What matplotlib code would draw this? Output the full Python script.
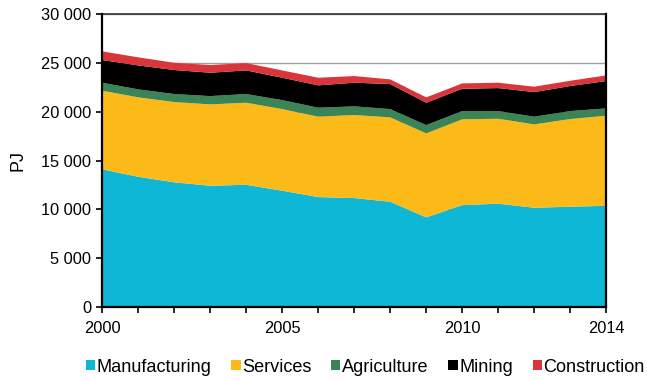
import matplotlib.pyplot as plt
from matplotlib.patches import Patch
from matplotlib.ticker import FuncFormatter

plt.rcParams['font.family'] = ['Liberation Sans', 'DejaVu Sans']

years = list(range(2000, 2015))
sectors = ['Manufacturing', 'Services', 'Agriculture', 'Mining', 'Construction']
colors = ['#0db7d5', '#fbba18', '#3a8455', '#000000', '#d9353a']

# energy use by sector, PJ
manufacturing = [14100, 13340, 12770, 12420, 12520, 11910, 11260, 11160,
                 10780, 9180, 10440, 10580, 10170, 10270, 10370]
services = [8050, 8130, 8220, 8330, 8400, 8360, 8230, 8500,
            8640, 8600, 8780, 8700, 8530, 8980, 9220]
agriculture = [820, 820, 820, 850, 890, 920, 920, 890,
               850, 850, 850, 790, 790, 820, 750]
mining = [2320, 2450, 2460, 2390, 2420, 2290, 2290, 2420,
          2560, 2290, 2280, 2350, 2520, 2560, 2800]
construction = [890, 830, 740, 790, 750, 750, 780, 680,
                480, 550, 550, 550, 550, 540, 580]

fig = plt.figure(figsize=(6.47, 3.8), dpi=100)
ax = fig.add_axes([0.158, 0.192, 0.779, 0.771])

ax.stackplot(years, manufacturing, services, agriculture, mining, construction,
             colors=colors, linewidth=0, zorder=2)

ax.set_xlim(2000, 2014)
ax.set_ylim(0, 30000)
ax.set_yticks(range(0, 30001, 5000))
ax.yaxis.set_major_formatter(FuncFormatter(lambda v, p: '{:,.0f}'.format(v).replace(',', ' ')))
ax.set_xticks([2000, 2005, 2010, 2014])
ax.set_xticks(years, minor=True)
ax.grid(axis='y', color='#a0a0a0', linewidth=1, zorder=1)
ax.set_axisbelow(True)

ax.tick_params(axis='both', which='both', direction='out', length=4, width=1.2,
               labelsize=11.8, color='black')
ax.tick_params(axis='y', pad=4)
ax.tick_params(axis='x', pad=6)
for side in ['left', 'bottom', 'right']:
    ax.spines[side].set_linewidth(1.6)
    ax.spines[side].set_zorder(3)
ax.spines['top'].set_linewidth(1.2)
ax.spines['top'].set_color('#303030')

ax.set_ylabel('PJ', fontsize=13, labelpad=10)

handles = [Patch(facecolor=c, edgecolor='none') for c in colors]
fig.legend(handles, sectors, loc='center left', bbox_to_anchor=(86 / 647, 0.034), ncol=5,
           frameon=False, fontsize=13.1, handlelength=0.5, handleheight=0.5,
           handletextpad=0.08, columnspacing=1.1, borderpad=0, borderaxespad=0)

fig.savefig('out.png', dpi=100)
